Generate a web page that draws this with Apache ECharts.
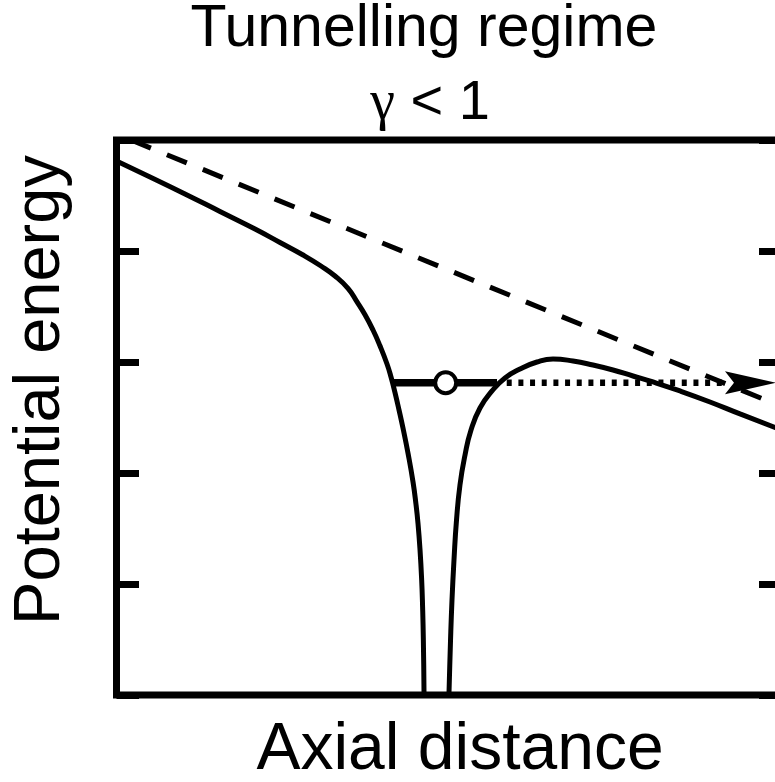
<!DOCTYPE html>
<html>
<head>
<meta charset="utf-8">
<script src="https://cdn.jsdelivr.net/npm/echarts@6/dist/echarts.min.js"></script>
<style>
  html, body { margin: 0; padding: 0; overflow: hidden; background: #fff; }
  #chart { width: 800px; height: 782px; }
</style>
</head>
<body>
<div id="chart"></div>
<script>
// Total potential: Coulomb well tilted by the laser field (axial distance, energy)
const potentialX = [0.000, 0.504, 1.030, 1.556, 2.083, 2.459, 2.805, 3.075, 3.286, 3.481,
  3.617, 3.737, 3.857, 3.962, 4.068, 4.128, 4.188, 4.248, 4.308, 4.383, 4.459, 4.504,
  4.534, 4.564, 4.589, 4.603, 4.614, 4.624, 4.633,
  4.970, 5.000, 5.023, 5.045, 5.075, 5.113, 5.165, 5.241, 5.331, 5.466, 5.647,
  5.842, 6.068, 6.323, 6.564, 6.865, 7.165, 7.466, 7.767, 8.068, 8.474, 8.925, 9.376, 10.000];
const potentialY = [4.811, 4.667, 4.514, 4.356, 4.198, 4.077, 3.964, 3.865, 3.775, 3.663,
  3.541, 3.425, 3.288, 3.146, 2.982, 2.865, 2.724, 2.569, 2.405, 2.180, 1.919, 1.716,
  1.545, 1.311, 1.036, 0.793, 0.509, 0.036, -0.586,
  -0.586, 0.018, 0.495, 0.856, 1.216, 1.577, 1.892, 2.162, 2.387, 2.586, 2.739,
  2.856, 2.937, 3.000, 3.027, 3.009, 2.973, 2.928, 2.874, 2.820, 2.739, 2.640, 2.532, 2.387];

// Potential of the laser field alone (straight dashed line)
const fieldX = [0.218, 10];
const fieldY = [5.0, 2.598];

// Bound electron energy level and its escape path
const levelEnergy = 2.813;
const boundX = [4.15, 5.722];      // inside the barrier
const tunnelX = [5.868, 9.195];    // dotted path after tunnelling
const arrowTipX = 9.917;
const electronX = 4.95;

// Axis ranges and tick step
const xRange = [0, 10];
const yRange = [0, 5];
const yStep = 1;

const pairs = (xs, ys) => xs.map((x, i) => [x, ys[i]]);
const flat = (xs, y) => xs.map(x => [x, y]);

const chart = echarts.init(document.getElementById('chart'), null, { renderer: 'canvas' });

const sideAxis = (pos) => ({
  type: 'value', position: pos, min: yRange[0], max: yRange[1], interval: yStep,
  axisLine: { show: false },
  axisTick: { show: true, inside: true, length: 22.5, lineStyle: { color: '#000', width: 7, cap: 'butt' } },
  axisLabel: { show: false },
  splitLine: { show: false }
});

const sans = '"Liberation Sans", Arial, Helvetica, sans-serif';

chart.setOption({
  animation: false,
  backgroundColor: '#fff',
  grid: {
    left: 116.5, top: 140, width: 665, height: 555,
    show: true, borderWidth: 7, borderColor: '#000', backgroundColor: 'transparent'
  },
  xAxis: {
    type: 'value', min: xRange[0], max: xRange[1],
    axisLine: { show: false }, axisTick: { show: false },
    axisLabel: { show: false }, splitLine: { show: false }
  },
  yAxis: [sideAxis('left'), sideAxis('right')],
  graphic: [
    {
      type: 'text', x: 424, y: 30, silent: true,
      style: { text: 'Tunnelling regime', fontSize: 59, fontFamily: sans, fill: '#000',
               align: 'center', verticalAlign: 'middle', textAlign: 'center', textVerticalAlign: 'middle' }
    },
    {
      type: 'text', x: 430, y: 104, silent: true,
      style: { text: '{g|γ} < 1', fontSize: 56, fontFamily: sans, fill: '#000',
               rich: { g: { fontSize: 56, fontFamily: '"Liberation Serif", "DejaVu Serif", serif' } },
               align: 'center', verticalAlign: 'middle', textAlign: 'center', textVerticalAlign: 'middle' }
    },
    {
      type: 'text', x: 41, y: 390, rotation: Math.PI / 2, silent: true,
      style: { text: 'Potential energy', fontSize: 65, fontFamily: sans, fill: '#000',
               align: 'center', verticalAlign: 'middle', textAlign: 'center', textVerticalAlign: 'middle' }
    },
    {
      type: 'text', x: 460, y: 751, silent: true,
      style: { text: 'Axial distance', fontSize: 66, fontFamily: sans, fill: '#000',
               align: 'center', verticalAlign: 'middle', textAlign: 'center', textVerticalAlign: 'middle' }
    }
  ],
  series: [
    {
      name: 'field', type: 'line', silent: true, clip: true, symbol: 'none', z: 2,
      data: pairs(fieldX, fieldY),
      lineStyle: { color: '#000', width: 5, type: [21.5, 17.3], cap: 'butt' }
    },
    {
      name: 'potential', type: 'line', silent: true, clip: true, symbol: 'none', z: 3,
      smooth: 0.5,
      data: pairs(potentialX, potentialY),
      lineStyle: { color: '#000', width: 5 }
    },
    {
      name: 'bound', type: 'line', silent: true, clip: true, symbol: 'none', z: 4,
      data: flat(boundX, levelEnergy),
      lineStyle: { color: '#000', width: 7.5, cap: 'butt' }
    },
    {
      name: 'tunnel', type: 'line', silent: true, clip: true, symbol: 'none', z: 4,
      data: flat(tunnelX, levelEnergy),
      lineStyle: { color: '#000', width: 6.5, type: [5, 6.67], cap: 'butt' }
    },
    {
      name: 'arrow', type: 'scatter', silent: true, z: 5,
      data: [[arrowTipX, levelEnergy]],
      symbol: 'path://M0,0 L51,11.5 L0,23 L9,11.5 Z',
      symbolSize: [51, 23], symbolOffset: [-25.5, 0],
      itemStyle: { color: '#000', opacity: 1 }
    },
    {
      name: 'electron', type: 'scatter', silent: true, z: 6,
      data: [[electronX, levelEnergy]],
      symbol: 'circle', symbolSize: 21,
      itemStyle: { color: '#fff', borderColor: '#000', borderWidth: 4, opacity: 1 }
    }
  ]
});
</script>
</body>
</html>
